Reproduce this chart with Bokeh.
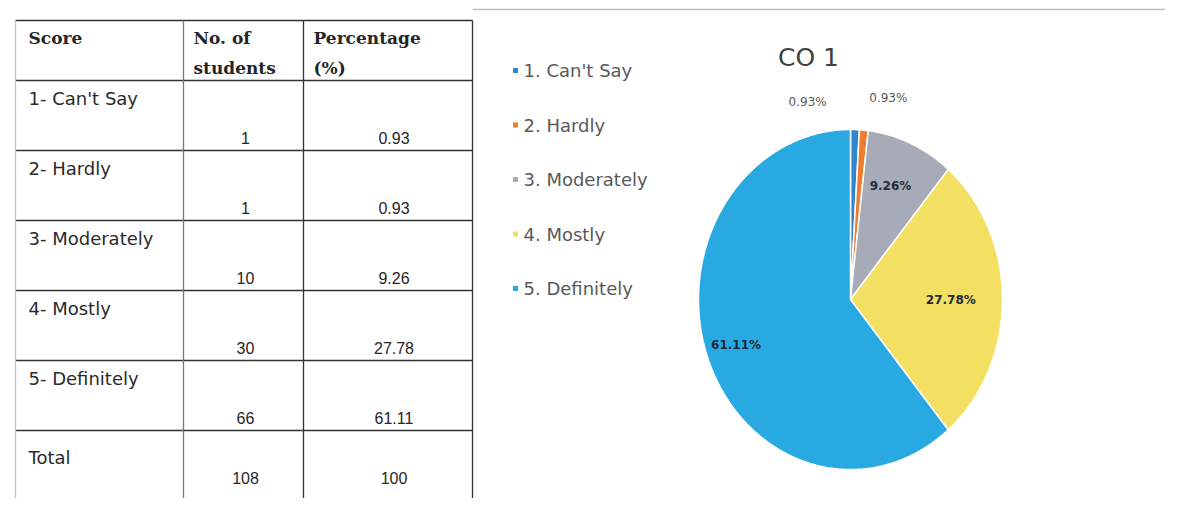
import numpy as np
from bokeh.plotting import figure
from bokeh.models import Range1d
from bokeh.core.properties import value
from bokeh.embed import file_html
from bokeh.resources import INLINE

# ---------------- data ----------------
scores = ["1- Can't Say", "2- Hardly", "3- Moderately", "4- Mostly", "5- Definitely"]
legend_labels = ["1. Can't Say", "2. Hardly", "3. Moderately", "4. Mostly", "5. Definitely"]
students = [1, 1, 10, 30, 66]
percentages = [0.93, 0.93, 9.26, 27.78, 61.11]
total_students = 108
total_pct = 100
chart_title = "CO 1"
header_cols = [["Score"], ["No. of", "students"], ["Percentage", "(%)"]]

# ---------------- style / layout ----------------
colors = ["#2F86CF", "#ED7D31", "#A7ABB7", "#F3E062", "#28A9E1"]
W, H = 1165, 498

p = figure(width=W, height=H, x_range=Range1d(0, W), y_range=Range1d(H, 0),
           output_backend="svg", toolbar_location=None, min_border=0)
p.axis.visible = False
p.grid.visible = False
p.outline_line_color = None
p.background_fill_color = "white"
p.border_fill_color = "white"

# ---------------- table ----------------
col_x = [15, 183, 303, 472]
head_top, head_bot, row_h = 20, 80, 70
row_tops = [head_bot + i * row_h for i in range(len(scores) + 1)]
table_bottom = H

# horizontal lines
hy = [head_top, head_bot] + row_tops[1:]
p.multi_line(xs=[[col_x[0], col_x[-1]] for _ in hy], ys=[[y, y] for y in hy],
             line_color="#333333", line_width=1.6)
# vertical lines
p.multi_line(xs=[[x, x] for x in col_x], ys=[[head_top, table_bottom] for _ in col_x],
             line_color=["#C4C4C4", "#777777", "#333333", "#333333"], line_width=1.3)

# header
hx, hyy, ht = [], [], []
for ci, lines in enumerate(header_cols):
    for li, t in enumerate(lines):
        hx.append(col_x[ci] + (13 if ci == 0 else 10))
        hyy.append(head_top + 17 + li * 30)
        ht.append(t)
p.text(x=hx, y=hyy, text=ht, text_font=value("DejaVu Serif"), text_font_style="bold",
       text_font_size="17px", text_color="#262626", text_baseline="middle", text_align="left")

num_cx = (col_x[1] + col_x[2]) / 2 + 2
pct_cx = (col_x[2] + col_x[3]) / 2 + 6
all_labels = scores + ["Total"]
lab_y = [row_tops[i] + 18 for i in range(len(scores))] + [row_tops[-1] + 27]
val_y = [row_tops[i] + row_h - 13 for i in range(len(scores))] + [row_tops[-1] + 47]
p.text(x=[col_x[0] + 13] * len(all_labels), y=lab_y, text=all_labels,
       text_font=value("DejaVu Sans"), text_font_size="18px", text_color="#2A2A2A",
       text_baseline="middle", text_align="left")
num_txt = [str(s) for s in students] + [str(total_students)]
pct_txt = [f"{v:.2f}" for v in percentages] + [str(total_pct)]
p.text(x=[num_cx] * len(num_txt), y=val_y, text=num_txt, text_font=value("Liberation Sans"),
       text_font_size="16px", text_color="#262626", text_baseline="middle", text_align="center")
p.text(x=[pct_cx] * len(pct_txt), y=val_y, text=pct_txt, text_font=value("Liberation Sans"),
       text_font_size="16px", text_color="#262626", text_baseline="middle", text_align="center")

# chart frame top edge (light)
p.line(x=[472, W], y=[9, 9], line_color="#BDBDBD", line_width=1.5)

# ---------------- pie ----------------
cx, cy, rx, ry = 850, 299, 152, 170
fr = np.array(percentages) / sum(percentages)
ends = np.cumsum(fr) * 2 * np.pi
starts = ends - fr * 2 * np.pi
pxs, pys = [], []
for a0, a1 in zip(starts, ends):
    t = np.linspace(a0, a1, max(4, int((a1 - a0) / 0.01)))
    pxs.append([cx] + list(cx + rx * np.sin(t)) + [cx])
    pys.append([cy] + list(cy - ry * np.cos(t)) + [cy])
p.patches(xs=pxs, ys=pys, fill_color=colors, line_color="white", line_width=1.5)

# data labels
lab_r = [1.16, 1.19, 0.73, 0.66, 0.78]
lab_dx = [-48, 22, -4, 0, -3]
mids = (starts + ends) / 2
lx = [cx + rx * r * np.sin(m) + d for r, m, d in zip(lab_r, mids, lab_dx)]
ly = [cy - ry * r * np.cos(m) for r, m in zip(lab_r, mids)]
ltxt = [f"{v:.2f}%" for v in percentages]
p.text(x=lx[:2], y=ly[:2], text=ltxt[:2], text_font=value("DejaVu Sans"), text_font_size="12px",
       text_color="#595959", text_baseline="middle", text_align="center")
p.text(x=lx[2:], y=ly[2:], text=ltxt[2:], text_font=value("DejaVu Sans"), text_font_size="12px",
       text_font_style="bold", text_color="#1F2A3A", text_baseline="middle", text_align="center")

# title
p.text(x=[808], y=[57], text=[chart_title], text_font=value("DejaVu Sans"), text_font_size="25px",
       text_color="#404040", text_baseline="middle", text_align="center")

# legend
leg_y = [70 + i * 54.5 for i in range(len(legend_labels))]
p.scatter(x=[515] * len(legend_labels), y=leg_y, marker="square", size=5,
          fill_color=colors, line_color=None)
p.text(x=[523] * len(legend_labels), y=leg_y, text=legend_labels, text_font=value("DejaVu Sans"),
       text_font_size="18px", text_color="#595959", text_baseline="middle", text_align="left")

open("out.html", "w").write(file_html(p, INLINE))
